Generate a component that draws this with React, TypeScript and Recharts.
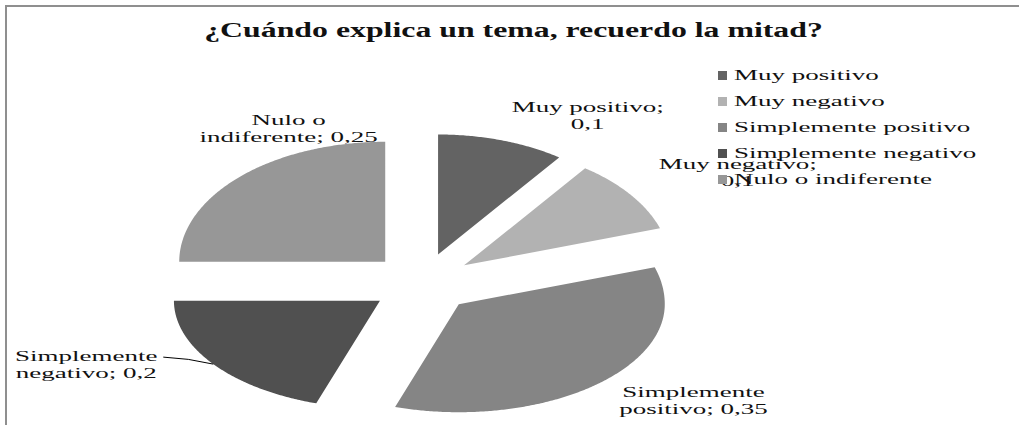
import React from 'react';
import { PieChart, Pie, Cell, Legend } from 'recharts';

// Survey answers, drawn clockwise from 12 o'clock
const categories = ['Muy positivo', 'Muy negativo', 'Simplemente positivo', 'Simplemente negativo', 'Nulo o indiferente'];
const shares = [0.1, 0.1, 0.35, 0.2, 0.25];
// how many words of "name; value" go on the first label line
const labelBreaks = [2, 2, 1, 1, 2];

const COLORS = ['#636363', '#b2b2b2', '#858585', '#505050', '#979797'];
const TEXT = '#111111';
const SERIF = '"Liberation Serif", "Times New Roman", serif';

// fake 3D look: squashed ellipse (top half a bit taller than the front half)
const K_TOP = 120 / 206;
const K_BOT = 108 / 206;
const EXPLODE_X = 52;
const EXPLODE_Y = 30;
const TEXT_SX = 1.8; // the original text is stretched sideways

// label nudges from the slice's outer mid point (Excel "best fit" placement)
const LABEL_NUDGE = [
  [86, -25],
  [107, -22],
  [89, 20],
  [-127, 0],
  [49, -48],
];

const RAD = Math.PI / 180;

const data = categories.map((name, i) => ({ name, value: shares[i] }));

const ellipsePoint = (x: number, y: number, angle: number, r: number) => {
  const s = Math.sin(angle * RAD);
  const k = s >= 0 ? K_TOP : K_BOT;
  return [x + r * Math.cos(angle * RAD), y - r * s * k];
};

const fmt = (v: number) => String(v).replace('.', ',');

const renderSlice = (props: any) => {
  const { cx, cy, startAngle, endAngle, midAngle, outerRadius, index, name, value } = props;
  const ox = EXPLODE_X * Math.cos(midAngle * RAD);
  const oy = -EXPLODE_Y * Math.sin(midAngle * RAD);
  const ax = cx + ox;
  const ay = cy + oy;

  const steps = Math.max(8, Math.ceil(Math.abs(startAngle - endAngle) * 2));
  let d = `M${ax},${ay}`;
  for (let j = 0; j <= steps; j++) {
    const a = startAngle + ((endAngle - startAngle) * j) / steps;
    const [px, py] = ellipsePoint(ax, ay, a, outerRadius);
    d += ` L${px.toFixed(2)},${py.toFixed(2)}`;
  }
  d += ' Z';

  const [mx, my] = ellipsePoint(ax, ay, midAngle, outerRadius);
  const lx = mx + LABEL_NUDGE[index][0];
  const ly = my + LABEL_NUDGE[index][1];

  const words = `${name}; ${fmt(value)}`.split(' ');
  const line1 = words.slice(0, labelBreaks[index]).join(' ');
  const line2 = words.slice(labelBreaks[index]).join(' ');

  return (
    <g key={`slice-${index}`}>
      <path d={d} fill={COLORS[index]} stroke="none" />
      {Math.abs(LABEL_NUDGE[index][0]) > 115 && (
        <path
          d={`M${mx},${my} Q${mx - 25},${ly - 6} ${lx + 77},${ly - 7}`}
          fill="none"
          stroke="#000"
          strokeWidth={1}
        />
      )}
      <text
        transform={`translate(${lx},${ly}) scale(${TEXT_SX},1)`}
        textAnchor="middle"
        fontFamily={SERIF}
        fontSize={15}
        fill={TEXT}
      >
        <tspan x={0} y={-3.5}>{line1}</tspan>
        <tspan x={0} y={13.5}>{line2}</tspan>
      </text>
    </g>
  );
};

// legend keeps the series order (recharts sorts the payload by name)
const renderLegend = () => (
  <div>
    {categories.map((label, i) => (
      <div key={label} style={{ height: 26, display: 'flex', alignItems: 'center' }}>
        <span style={{ width: 9, height: 9, background: COLORS[i], marginRight: 7, flex: 'none' }} />
        <span
          style={{
            display: 'inline-block',
            fontFamily: SERIF,
            fontSize: 15,
            lineHeight: '26px',
            color: TEXT,
            whiteSpace: 'nowrap',
            transform: `scaleX(${TEXT_SX})`,
            transformOrigin: 'left center',
          }}
        >
          {label}
        </span>
      </div>
    ))}
  </div>
);

export default function App() {
  return (
    <div
      style={{
        position: 'absolute',
        left: 0,
        top: 0,
        width: 1019,
        height: 425,
        overflow: 'hidden',
        background: '#fff',
      }}
    >
      {/* chart frame, only top and left edges are in the crop */}
      <div
        style={{
          position: 'absolute',
          left: 5,
          top: 5,
          width: 1030,
          height: 440,
          borderTop: '2px solid #8f8f8f',
          borderLeft: '2px solid #8f8f8f',
        }}
      />
      <div
        style={{
          position: 'absolute',
          top: 20,
          left: 0,
          width: 1028,
          textAlign: 'center',
          fontFamily: SERIF,
          fontWeight: 'bold',
          fontSize: 20,
          lineHeight: '20px',
          color: TEXT,
        }}
      >
        <span style={{ display: 'inline-block', transform: 'scaleX(1.59)', whiteSpace: 'nowrap' }}>
          ¿Cuándo explica un tema, recuerdo la mitad?
        </span>
      </div>
      <PieChart width={1019} height={425} margin={{ top: 0, right: 0, bottom: 0, left: 0 }}>
        <Pie
          data={data}
          dataKey="value"
          nameKey="name"
          cx={422}
          cy={283}
          outerRadius={206}
          startAngle={90}
          endAngle={-270}
          stroke="none"
          label={renderSlice}
          labelLine={false}
          isAnimationActive={false}
        >
          {data.map((entry, i) => (
            <Cell key={entry.name} fill={COLORS[i]} fillOpacity={0} />
          ))}
        </Pie>
        <Legend
          layout="vertical"
          align="right"
          verticalAlign="top"
          content={renderLegend}
          wrapperStyle={{ left: 718, top: 62, width: 300 }}
        />
      </PieChart>
    </div>
  );
}
